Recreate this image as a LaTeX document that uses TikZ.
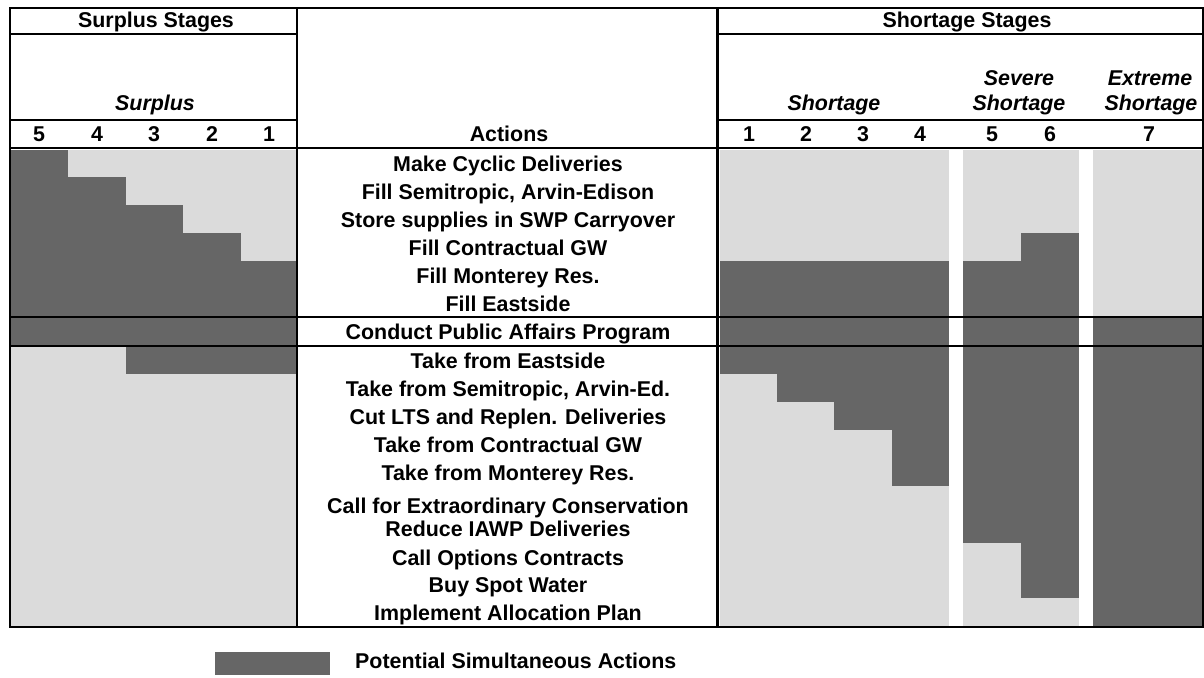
\documentclass[tikz,border=0pt]{standalone}
\usepackage{fontspec}
\setmainfont{Liberation Sans}
\usepackage{tikz}
\definecolor{darkfill}{gray}{0.40}
\definecolor{lightfill}{gray}{0.86}
\tikzset{txt/.style={font=\bfseries\fontsize{21.4}{22}\selectfont,inner sep=0pt,anchor=base},
  ital/.style={txt,font=\bfseries\itshape\fontsize{21.4}{22}\selectfont},
  dk/.style={fill=darkfill},
  lt/.style={fill=lightfill},
  rule/.style={line width=2.2pt}}

\begin{document}
\begin{tikzpicture}[x=1pt,y=-1pt]
    \useasboundingbox (0,0) rectangle (1204,677);

    \fill[lt] (10,150) rectangle (297,627);
    \fill[dk] (10,150) rectangle (68,346);
    \fill[dk] (68,177) rectangle (126,346);
    \fill[dk] (126,205) rectangle (183,374);
    \fill[dk] (183,233) rectangle (241,374);
    \fill[dk] (241,261) rectangle (297,374);

    \fill[lt] (720,150) rectangle (949,627);
    \fill[dk] (720,261) rectangle (777,374);
    \fill[dk] (777,261) rectangle (834,402);
    \fill[dk] (834,261) rectangle (892,430);
    \fill[dk] (892,261) rectangle (949,486);
    \fill[lt] (963,150) rectangle (1079,627);
    \fill[dk] (963,261) rectangle (1021,543);
    \fill[dk] (1021,233) rectangle (1079,598);
    \fill[lt] (1093,150) rectangle (1203,317);
    \fill[dk] (1093,317) rectangle (1203,627);

    \draw[rule] (10,8) rectangle (1203,627);
    \draw[rule] (297,8) -- (297,627);
    \draw[rule,line width=3pt] (717,8) -- (717,627);
    \draw[rule] (10,34) -- (297,34) (10,120) -- (297,120);
    \draw[rule] (717,34) -- (1203,34) (717,120) -- (1203,120);
    \draw[rule] (10,148) -- (1203,148);
    \draw[rule] (10,317) -- (1203,317);
    \draw[rule] (10,346) -- (1203,346);

    \node[txt] (sh) at (156,28) {Surplus Stages};
    \node[ital] (su) at (155,110) {Surplus};
    \node[txt] (s5) at (39,141) {5};
    \node[txt] (s4) at (97,141) {4};
    \node[txt] (s3) at (154,141) {3};
    \node[txt] (s2) at (212,141) {2};
    \node[txt] (s1) at (269,141) {1};

    \node[txt] (th) at (967,28) {Shortage Stages};
    \node[ital] (tg) at (834,110) {Shortage};
    \node[ital] (tv) at (1019,85) {Severe};
    \node[ital] (tw) at (1019,110) {Shortage};
    \node[ital] (te) at (1150,85) {Extreme};
    \node[ital] (tx) at (1151,110) {Shortage};
    \node[txt] (t1) at (749,141) {1};
    \node[txt] (t2) at (806,141) {2};
    \node[txt] (t3) at (863,141) {3};
    \node[txt] (t4) at (920,141) {4};
    \node[txt] (t5) at (992,141) {5};
    \node[txt] (t6) at (1050,141) {6};
    \node[txt] (t7) at (1149,141) {7};

    \node[txt] (ac) at (509,141) {Actions};
    \node[txt] (a) at (508,171) {Make Cyclic Deliveries};
    \node[txt] (b) at (508,199) {Fill Semitropic, Arvin-Edison};
    \node[txt] (c) at (508,227) {Store supplies in SWP Carryover};
    \node[txt] (d) at (508,255) {Fill Contractual GW};
    \node[txt] (e) at (508,283) {Fill Monterey Res.};
    \node[txt] (f) at (508,311) {Fill Eastside};
    \node[txt] (g) at (508,339) {Conduct Public Affairs Program};
    \node[txt] (h) at (508,368) {Take from Eastside};
    \node[txt] (i) at (508,396) {Take from Semitropic, Arvin-Ed.};
    \node[txt] (j) at (508,424) {Cut LTS and Replen. Deliveries};
    \node[txt] (k) at (508,452) {Take from Contractual GW};
    \node[txt] (l) at (508,480) {Take from Monterey Res.};
    \node[txt] (m) at (508,513) {Call for Extraordinary Conservation};
    \node[txt] (n) at (508,536) {Reduce IAWP Deliveries};
    \node[txt] (o) at (508,565) {Call Options Contracts};
    \node[txt] (p) at (508,592) {Buy Spot Water};
    \node[txt] (q) at (508,620) {Implement Allocation Plan};

    \fill[dk] (215,652) rectangle (330,675);
    \node[txt,anchor=base west] (lg) at (355,668) {Potential Simultaneous Actions};
\end{tikzpicture}
\end{document}
